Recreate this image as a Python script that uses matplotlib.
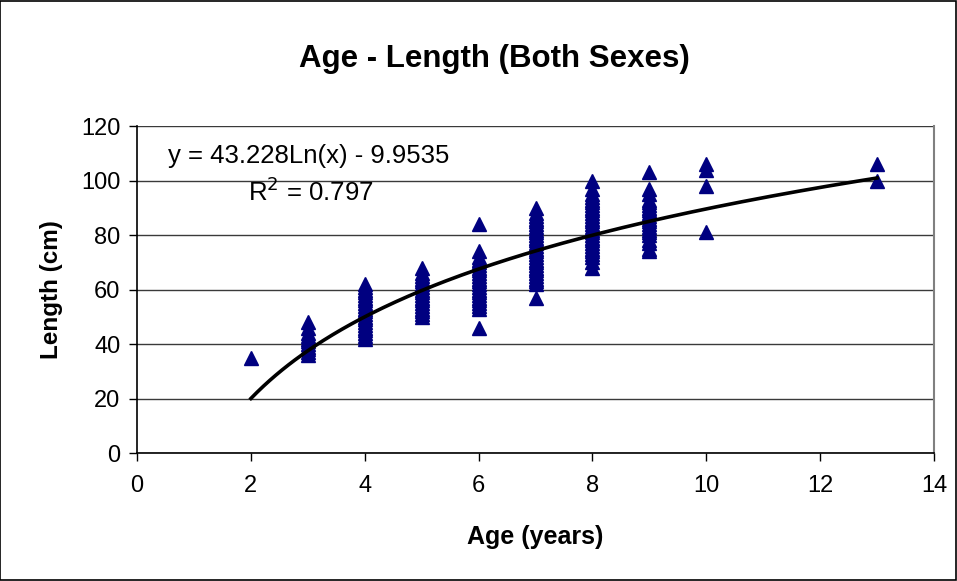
import numpy as np
import matplotlib
matplotlib.use("Agg")
import matplotlib.pyplot as plt
from matplotlib.patches import Rectangle

plt.rcParams["font.family"] = ["Liberation Sans", "DejaVu Sans"]

len_age2 = [35]
len_age3 = [36, 37, 38, 39, 40, 41, 42, 43, 44, 46, 48]
len_age4 = [42, 43, 44, 45, 46, 47, 48, 49, 50, 51, 52, 53, 54, 55, 56, 57, 58, 59, 60, 61, 62]
len_age5 = [50, 51, 52, 53, 54, 55, 56, 57, 58, 59, 60, 61, 62, 63, 64, 65, 66, 68]
len_age6 = [46, 53, 54, 55, 56, 57, 58, 59, 60, 61, 62, 63, 64, 65, 66, 67, 68, 69, 70, 71, 72, 74, 84]
len_age7 = [57, 62, 63, 64, 65, 66, 67, 68, 69, 70, 71, 72, 73, 74, 75, 76, 77, 78, 79, 80,
            81, 82, 83, 84, 85, 86, 87, 88, 90]
len_age8 = [68, 70, 72, 73, 74, 75, 76, 77, 78, 79, 80, 81, 82, 83, 84, 85, 86, 87, 88, 89,
            90, 91, 92, 93, 94, 95, 97, 100]
len_age9 = [74, 75, 77, 78, 80, 81, 82, 83, 84, 85, 86, 87, 88, 89, 90, 91, 92, 93, 95, 97, 103]
len_age10 = [81, 98, 104, 106]
len_age13 = [100, 106]

ages = [2, 3, 4, 5, 6, 7, 8, 9, 10, 13]
lengths = [len_age2, len_age3, len_age4, len_age5, len_age6, len_age7,
           len_age8, len_age9, len_age10, len_age13]

# log trendline as printed on the chart
coef_a = 43.228
coef_b = -9.9535
r_squared = 0.797

xs = np.concatenate([[a] * len(l) for a, l in zip(ages, lengths)])
ys = np.concatenate(lengths)

fig = plt.figure(figsize=(9.57, 5.81), dpi=100)
fig.patches.append(Rectangle((0.0005, 0.001), 0.998, 0.997, transform=fig.transFigure,
                             fill=False, edgecolor="black", linewidth=1.2))
ax = fig.add_axes([0.1432, 0.2203, 0.8328, 0.5628])

ax.set_xlim(0, 14)
ax.set_ylim(0, 120)
ax.set_xticks(np.arange(0, 15, 2))
ax.set_yticks(np.arange(0, 121, 20))
ax.yaxis.grid(True, color="#3a3a3a", linewidth=1)
ax.set_axisbelow(True)

ax.plot(xs, ys, linestyle="none", marker="^", markersize=9.5,
        color="#000080", markeredgecolor="#000080", zorder=3)

x_fit = np.linspace(min(ages), max(ages), 200)
ax.plot(x_fit, coef_a * np.log(x_fit) + coef_b, color="black", linewidth=2.6, zorder=4)

ax.spines["top"].set_visible(False)
ax.spines["right"].set_color("#808080")
ax.spines["right"].set_linewidth(1.5)
ax.spines["left"].set_linewidth(1.2)
ax.spines["bottom"].set_linewidth(1.2)
ax.tick_params(direction="out", length=6, width=1, labelsize=17)
ax.tick_params(axis="x", pad=10)
ax.tick_params(axis="y", pad=6)

ax.set_xlabel("Age (years)", fontsize=18, fontweight="bold", labelpad=20)
ax.set_ylabel("Length (cm)", fontsize=17.5, fontweight="bold", labelpad=13)
fig.suptitle("Age - Length (Both Sexes)", fontsize=22.5, fontweight="bold", x=0.517, y=0.925)

ax.text(0.039, 0.907, "y = 43.228Ln(x) - 9.9535", transform=ax.transAxes,
        fontsize=18.5, va="center", ha="left")
ax.text(0.139, 0.80, "R$^2$ = 0.797", transform=ax.transAxes,
        fontsize=18.5, va="center", ha="left")

fig.savefig("out.png", dpi=100, facecolor="white")
